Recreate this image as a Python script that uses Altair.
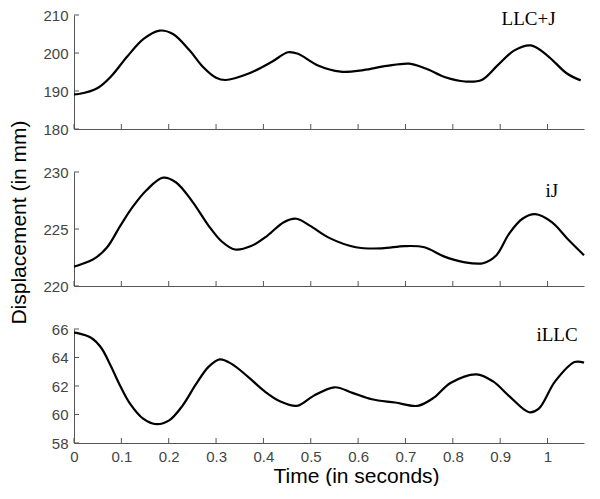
import altair as alt
import pandas as pd

# ---- data ----
t_top = [0.0, 0.01, 0.05, 0.078, 0.112, 0.147, 0.181, 0.209, 0.244, 0.272, 0.30, 0.32, 0.369,
         0.418, 0.452, 0.473, 0.514, 0.563, 0.611, 0.66, 0.708, 0.743, 0.784, 0.826, 0.861,
         0.895, 0.93, 0.965, 0.999, 1.041, 1.07]
v_top = [189.1, 189.2, 190.8, 193.8, 199.0, 203.7, 205.9, 205.0, 200.7, 196.4, 193.5, 192.9, 194.6,
         197.7, 200.2, 199.8, 196.8, 195.1, 195.5, 196.6, 197.2, 195.9, 193.6, 192.5, 192.9,
         196.8, 200.7, 202.0, 199.4, 194.6, 192.8]

t_mid = [0.0, 0.008, 0.043, 0.07, 0.098, 0.125, 0.153, 0.188, 0.215, 0.25, 0.284, 0.312, 0.34,
         0.374, 0.408, 0.443, 0.47, 0.498, 0.54, 0.595, 0.65, 0.698, 0.74, 0.781, 0.823,
         0.864, 0.892, 0.919, 0.947, 0.974, 1.009, 1.043, 1.077]
v_mid = [221.7, 221.8, 222.4, 223.4, 225.3, 227.0, 228.4, 229.5, 229.1, 227.4, 225.3, 223.9, 223.2,
         223.5, 224.4, 225.6, 225.9, 225.3, 224.2, 223.4, 223.3, 223.5, 223.4, 222.6, 222.1,
         222.0, 222.7, 224.6, 225.9, 226.3, 225.6, 224.1, 222.7]

t_bot = [0.0, 0.005, 0.036, 0.057, 0.077, 0.098, 0.119, 0.146, 0.174, 0.201, 0.229, 0.257, 0.284,
         0.308, 0.332, 0.367, 0.402, 0.436, 0.471, 0.505, 0.55, 0.588, 0.629, 0.678, 0.726,
         0.76, 0.795, 0.85, 0.885, 0.919, 0.961, 0.981, 1.016, 1.057, 1.077]
v_bot = [65.75, 65.73, 65.39, 64.70, 63.46, 61.98, 60.73, 59.71, 59.32, 59.59, 60.61, 62.09, 63.34,
         63.87, 63.57, 62.66, 61.64, 60.91, 60.61, 61.29, 61.91, 61.52, 61.07, 60.84, 60.61,
         61.18, 62.21, 62.82, 62.32, 61.29, 60.16, 60.39, 62.32, 63.68, 63.64]

x_ticks = [0, 0.1, 0.2, 0.3, 0.4, 0.5, 0.6, 0.7, 0.8, 0.9, 1.0]
y_ticks_top = [180, 190, 200, 210]
y_ticks_mid = [220, 225, 230]
y_ticks_bot = [58, 60, 62, 64, 66]

labels = ["LLC+J", "iJ", "iLLC"]
label_t = [0.96, 1.009, 1.02]
label_v = [209.0, 228.3, 65.6]

# ---- styling ----
FONT = "Liberation Sans"
AXC = "#555555"
LABC = "#444444"
W = 510
H = 114
XMAX = 1.077


def panel(t, v, ydomain, yticks, label, lt, lv, bottom=False, ytitle=False):
    df = pd.DataFrame({"t": t, "v": v})
    xs = alt.Scale(domain=[0, XMAX], nice=False, zero=False)
    ys = alt.Scale(domain=ydomain, nice=False, zero=False)

    xkw = dict(values=x_ticks, ticks=False, tickSize=0, grid=False, domainColor=AXC,
               domainWidth=1, labels=bottom, labelFont=FONT, labelFontSize=15,
               labelColor=LABC, labelPadding=6, format="~g", labelFlush=False,
               labelOverlap=False, tickCount=len(x_ticks))
    if bottom:
        xkw.update(title="Time (in seconds)", titleFont=FONT, titleFontSize=21,
                   titleFontWeight="normal", titleColor="black", titleX=282, titleY=22,
                   titleAnchor="middle", titleBaseline="top")
    else:
        xkw.update(title="")

    ykw = dict(values=yticks, ticks=False, tickSize=0, grid=False, domainColor=AXC,
               domainWidth=1, labelFont=FONT, labelFontSize=15, labelColor=LABC,
               labelPadding=6, format="d", labelFlush=False, labelOverlap=False,
               tickCount=len(yticks))
    if ytitle:
        ykw.update(title="Displacement (in mm)", titleFont=FONT, titleFontSize=21,
                   titleFontWeight="normal", titleColor="black", titleAngle=-90,
                   titleX=-55, titleY=50, titleAlign="center", titleBaseline="middle")
    else:
        ykw.update(title="")

    X = alt.X("t:Q", scale=xs, axis=alt.Axis(**xkw))
    Y = alt.Y("v:Q", scale=ys, axis=alt.Axis(**ykw))

    line = alt.Chart(df).mark_line(color="black", strokeWidth=2.2, interpolate="catmull-rom").encode(
        x=X, y=Y,
    )
    xt = alt.Chart(pd.DataFrame({"t": x_ticks})).mark_rule(color=AXC, strokeWidth=1).encode(
        x=X, y=alt.value(H), y2=alt.value(H - 5),
    )
    yt = alt.Chart(pd.DataFrame({"v": yticks})).mark_rule(color=AXC, strokeWidth=1).encode(
        y=Y, x=alt.value(0), x2=alt.value(5),
    )
    txt = alt.Chart(pd.DataFrame({"t": [lt], "v": [lv], "s": [label]})).mark_text(
        font="Liberation Serif", fontSize=19, color="black", align="center", baseline="middle"
    ).encode(
        x=X, y=Y, text="s:N",
    )
    return alt.layer(line, xt, yt, txt).properties(width=W, height=H)


p1 = panel(t_top, v_top, [180, 210], y_ticks_top, labels[0], label_t[0], label_v[0])
p2 = panel(t_mid, v_mid, [220, 230], y_ticks_mid, labels[1], label_t[1], label_v[1], ytitle=True)
p3 = panel(t_bot, v_bot, [58, 66], y_ticks_bot, labels[2], label_t[2], label_v[2], bottom=True)

chart = alt.vconcat(p1, p2, p3, spacing=43, bounds="flush").properties(
    padding={"left": 0, "top": 0, "right": 0, "bottom": 0}
).configure_view(stroke=None).configure_axis(labelOverlap=False)

chart.save("out.html", embed_options={"renderer": "svg", "actions": False})
